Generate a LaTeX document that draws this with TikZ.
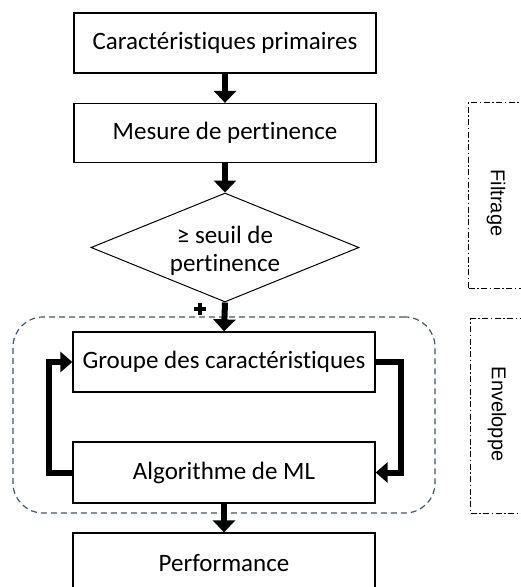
\documentclass[tikz,border=0pt]{standalone}
\usepackage{fontspec}
\setmainfont{Carlito}[Ligatures=NoCommon]
\newfontfamily\arialfont{Liberation Sans}
\usetikzlibrary{arrows.meta,shapes.geometric}
\definecolor{envblue}{HTML}{44546A}
\begin{document}
\begin{tikzpicture}[x=1pt,y=-1pt,
  box/.style={draw, line width=1.3pt, minimum width=302pt, minimum height=60pt, inner sep=0pt, font=\fontsize{25}{30}\selectfont},
  flow/.style={line width=6pt, -{Triangle[width=22pt,length=12pt]}},
  loopline/.style={line width=6pt, -{Triangle[width=20pt,length=12pt]}},
  envbox/.style={draw=envblue, line width=1.2pt, dash pattern=on 6pt off 4pt, rounded corners=30pt, minimum width=422pt, minimum height=196pt, inner sep=0pt},
  sidebox/.style={draw, line width=1pt, dash pattern=on 6pt off 2.5pt on 1.5pt off 2.5pt, minimum width=80pt, inner sep=0pt, anchor=north west},
  sidelabel/.style={rotate=-90, font=\arialfont\fontsize{20}{24}\selectfont}]
\useasboundingbox (0,0) rectangle (520,587);
% side boxes
\node[sidebox, minimum height=186pt] (filt) at (468,102) {};
\node[sidelabel] (filtlbl) at (496,203) {Filtrage};
\node[sidebox, minimum height=195pt] (envside) at (470,318) {};
\node[sidelabel] (envlbl) at (497,414) {Enveloppe};
% wrapper box
\node[envbox] (env) at (224,415) {};
% main nodes
\node[box] (prim) at (225,43) {Caractéristiques primaires};
\node[box, minimum height=59pt] (mes) at (225,133) {Mesure de pertinence};
\node[diamond, draw, line width=1pt, minimum width=268pt, minimum height=109pt, inner sep=0pt] (dec) at (225,247.5) {};
\node[align=center, font=\fontsize{25}{28}\selectfont] (dectext) at (225,251) {≥ seuil de\\pertinence};
\node[box] (grp) at (224,362) {Groupe des caractéristiques};
\node[box, minimum height=61pt] (alg) at (224,472.5) {Algorithme de ML};
\node[box] (perf) at (224,563) {Performance};
% plus sign
\coordinate (plus) at (200,309);
\draw[line width=4.5pt] ([xshift=-6pt]plus) -- ([xshift=6pt]plus) ([yshift=-6pt]plus) -- ([yshift=6pt]plus);
% flow arrows
\draw[flow] (prim.south) -- (mes.north);
\draw[flow] (mes.south) -- (dec.north);
\draw[flow] (dec.south) -- (grp.north);
\draw[flow] (alg.south) -- (perf.north);
% loop arrows
\draw[loopline] (alg.west) -- ++(-23,0) |- (grp.west);
\draw[loopline] (grp.east) -- ++(25,0) |- (alg.east);
\end{tikzpicture}
\end{document}
